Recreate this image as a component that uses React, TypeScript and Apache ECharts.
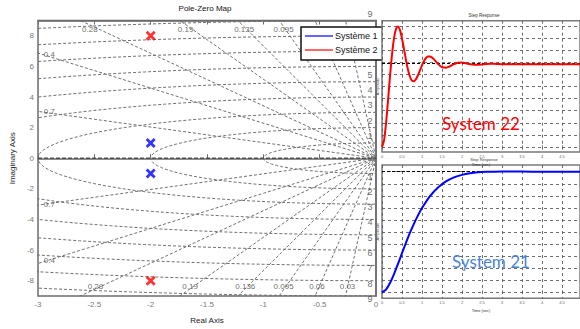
import React, { useEffect, useRef } from 'react';
import * as echarts from 'echarts';

// Pole locations
const sys1PoleRe = [-2, -2];
const sys1PoleIm = [1, -1];
const sys2PoleRe = [-2, -2];
const sys2PoleIm = [8, -8];

// s-plane grid definition
const dampingValues = [0.03, 0.06, 0.095, 0.135, 0.19, 0.28, 0.4, 0.7];
const natFreqValues = [1, 2, 3, 4, 5, 6, 7, 8, 9];

// Visible grid labels (damping)
const dampTopText = ['0.28', '0.19', '0.135', '0.095'];
const dampTopRe = [-2.54, -1.69, -1.17, -0.82];
const dampBotText = ['0.28', '0.19', '0.136', '0.095', '0.06', '0.03'];
const dampBotRe = [-2.49, -1.65, -1.16, -0.82, -0.524, -0.253];
const dampSideText = ['0.4', '0.7', '0.7', '0.4'];
const dampSideIm = [6.8, 3.06, -3.0, -6.68];

// Visible natural-frequency labels
const wnUpperValues = [1, 2, 3, 4, 5, 9];
const wnLowerValues = [1, 2, 3, 4, 5, 6, 7, 8, 9];

// Step responses (normalized amplitude)
const stepTime2 = [0, 0.05, 0.1, 0.15, 0.2, 0.25, 0.3, 0.35, 0.4, 0.45, 0.5, 0.55, 0.6, 0.65, 0.7, 0.75, 0.8, 0.85, 0.9, 0.95, 1.0, 1.05, 1.1, 1.15, 1.2, 1.25, 1.3, 1.35, 1.4, 1.45, 1.5, 1.6, 1.7, 1.8, 1.9, 2.0, 2.1, 2.2, 2.3, 2.4, 2.5, 2.6, 2.7, 2.8, 2.9, 3.0, 3.5, 4.0, 4.5, 5.0];
const stepAmp2 = [0, 0.078, 0.283, 0.559, 0.852, 1.115, 1.312, 1.426, 1.455, 1.41, 1.31, 1.182, 1.049, 0.933, 0.848, 0.801, 0.794, 0.819, 0.867, 0.926, 0.986, 1.037, 1.074, 1.092, 1.093, 1.08, 1.058, 1.031, 1.003, 0.981, 0.965, 0.958, 0.975, 1.0, 1.017, 1.019, 1.01, 0.999, 0.992, 0.992, 0.996, 1.001, 1.004, 1.004, 1.002, 1.0, 1.0, 1.0, 1.0, 1.0];
const sys2Gain = 0.685;

const stepTime1 = [0, 0.1, 0.2, 0.3, 0.4, 0.5, 0.6, 0.7, 0.8, 0.9, 1.0, 1.2, 1.4, 1.6, 1.8, 2.0, 2.2, 2.4, 2.6, 2.8, 3.0, 3.5, 4.0, 4.5, 5.0];
const stepAmp1 = [0, 0.022, 0.077, 0.151, 0.236, 0.324, 0.411, 0.494, 0.57, 0.638, 0.699, 0.798, 0.87, 0.92, 0.953, 0.974, 0.987, 0.995, 0.999, 1.001, 1.002, 1.0015, 1.0005, 1.0, 1.0];
const sys1Gain = 1;

const stepGridLevels = [0, 0.1, 0.2, 0.3, 0.4, 0.5, 0.6, 0.7, 0.8, 0.9, 1.0];

const FONT = 'Liberation Sans, Arial, sans-serif';
const GRID_GREY = '#707070';
const XSYM = 'path://M0,2 L2,0 L5,3 L8,0 L10,2 L7,5 L10,8 L8,10 L5,7 L2,10 L0,8 L3,5 Z';

export default function App() {
  const ref = useRef<HTMLDivElement>(null);

  useEffect(() => {
    if (!ref.current) return;
    const chart = echarts.init(ref.current, undefined, { renderer: 'svg' });

    const gridLine = { color: GRID_GREY, width: 1, type: [3, 2] as number[] };

    const circleSeries = natFreqValues.map((r) => ({
      type: 'line', xAxisIndex: 0, yAxisIndex: 0, silent: true, symbol: 'none', z: 1,
      lineStyle: gridLine,
      data: Array.from({ length: 91 }, (_, i) => {
        const th = Math.PI / 2 + (i * Math.PI) / 90;
        return [r * Math.cos(th), r * Math.sin(th)];
      }),
    }));

    const radialSeries = dampingValues.map((z) => {
      const m = Math.sqrt(1 - z * z) / z;
      return {
        type: 'line', xAxisIndex: 0, yAxisIndex: 0, silent: true, symbol: 'none', z: 1,
        lineStyle: gridLine,
        data: [[-20, 20 * m], [0, 0], [-20, -20 * m]],
      };
    });

    const labelSeries = (data: any[], offset: number[], fontSize: number) => ({
      type: 'scatter', xAxisIndex: 0, yAxisIndex: 0, silent: true, clip: false, z: 3,
      symbol: 'circle', symbolSize: 1,
      itemStyle: { color: 'rgba(0,0,0,0)' },
      label: {
        show: true, position: 'inside', offset, formatter: (p: any) => p.data[2],
        color: '#444', fontSize, fontFamily: FONT,
      },
      data,
    });

    const dampLabels = [
      ...dampTopRe.map((x, i) => [x, 8.42, dampTopText[i]]),
      ...dampBotRe.map((x, i) => [x, -8.4, dampBotText[i]]),
      ...dampSideIm.map((y, i) => [-2.9, y, dampSideText[i]]),
    ];
    const wnUpper = wnUpperValues.map((r) => [0, r, String(r)]);
    const wnLower = wnLowerValues.map((r) => [0, -r, String(r)]);

    const stepXAxis = (gridIndex: number) => ({
      type: 'value', gridIndex, min: 0, max: 4.95, interval: 0.5, z: 7,
      axisLine: { show: false },
      axisTick: { show: true, inside: true, length: 2, lineStyle: { color: '#555', width: 0.6 } },
      axisLabel: { fontSize: 4, color: '#666', margin: 2, showMaxLabel: false, fontFamily: FONT },
      splitLine: { show: true, lineStyle: { color: '#5e5e5e', width: 0.9, type: [3, 3] } },
      name: 'Time (sec)', nameLocation: 'middle', nameGap: 10,
      nameTextStyle: { fontSize: 4, color: '#333', fontFamily: FONT },
    });
    const stepYAxis = (gridIndex: number, min: number, max: number) => ({
      type: 'value', gridIndex, min, max, z: 7,
      axisLine: { show: false }, axisTick: { show: false }, axisLabel: { show: false },
      splitLine: { show: false },
      name: 'Amplitude', nameLocation: 'middle', nameGap: 3, nameRotate: 90,
      nameTextStyle: { fontSize: 4, color: '#555', fontFamily: FONT },
    });
    const stepMarks = (ss: number) => ({
      silent: true, symbol: 'none', z: 7, animation: false,
      label: { show: false },
      data: [
        ...stepGridLevels.map((v) => ({ yAxis: v, lineStyle: { color: '#5e5e5e', type: [3, 3], width: 0.9 } })),
        { yAxis: ss, lineStyle: { color: '#000', type: [3, 2], width: 1.1 } },
      ],
    });

    const option: any = {
      animation: false,
      backgroundColor: '#fff',
      textStyle: { fontFamily: FONT },
      grid: [
        { left: 33, top: 20.5, width: 343, height: 278.5, show: true, borderColor: '#6b6b6b', borderWidth: 1.5, backgroundColor: '#fff', z: 0 },
        { left: 382, top: 20.7, width: 200, height: 131.3, show: true, borderColor: '#7a7a7a', borderWidth: 1.5, backgroundColor: '#fff', z: 6 },
        { left: 382, top: 165, width: 200, height: 133.3, show: true, borderColor: '#7a7a7a', borderWidth: 1.5, backgroundColor: '#fff', z: 6 },
      ],
      xAxis: [
        {
          type: 'value', gridIndex: 0, min: -3, max: 0, interval: 0.5,
          axisLine: { show: true, lineStyle: { color: '#6b6b6b', width: 1.5 } },
          axisTick: { show: true, inside: true, length: 4, lineStyle: { color: '#6b6b6b' } },
          axisLabel: { fontSize: 8, color: '#7a7a7a', margin: 4, fontFamily: FONT },
          splitLine: { show: false },
          name: 'Real Axis', nameLocation: 'middle', nameGap: 20,
          nameTextStyle: { fontSize: 8, color: '#222', fontFamily: FONT },
        },
        stepXAxis(1),
        stepXAxis(2),
        {
          type: 'value', gridIndex: 0, min: -3, max: 0, interval: 0.5, position: 'top',
          axisLine: { show: true, lineStyle: { color: '#6b6b6b', width: 1.5 } },
          axisTick: { show: true, inside: true, length: 4, lineStyle: { color: '#6b6b6b' } },
          axisLabel: { show: false }, splitLine: { show: false },
        },
      ],
      yAxis: [
        {
          type: 'value', gridIndex: 0, min: -9, max: 9, interval: 1,
          axisLine: { show: true, lineStyle: { color: '#6b6b6b', width: 1.5 } },
          axisTick: { show: false },
          axisLabel: {
            fontSize: 8, color: '#7a7a7a', margin: 4, fontFamily: FONT,
            formatter: (v: number) => (Math.round(v) % 2 === 0 ? String(v) : ''),
          },
          splitLine: { show: false },
          name: 'Imaginary Axis', nameLocation: 'middle', nameGap: 18, nameRotate: 90,
          nameTextStyle: { fontSize: 8, color: '#222', fontFamily: FONT },
        },
        stepYAxis(1, -0.041, 1.044),
        stepYAxis(2, -0.05, 1.056),
      ],
      series: [
        ...circleSeries,
        ...radialSeries,
        {
          type: 'line', xAxisIndex: 0, yAxisIndex: 0, silent: true, symbol: 'none', z: 1,
          lineStyle: { color: '#505050', width: 1.3, type: [4, 2] },
          data: [[-3, 0], [0, 0]],
        },
        labelSeries(dampLabels, [0, 0], 8),
        labelSeries(wnUpper, [-6, -7], 9),
        labelSeries(wnLower, [-6, 3], 9),
        {
          name: 'Système 1', type: 'scatter', xAxisIndex: 0, yAxisIndex: 0, z: 4,
          symbol: XSYM, symbolSize: 10, itemStyle: { color: '#0000ff' },
          data: sys1PoleRe.map((x, i) => [x, sys1PoleIm[i]]),
        },
        {
          name: 'Système 2', type: 'scatter', xAxisIndex: 0, yAxisIndex: 0, z: 4,
          symbol: XSYM, symbolSize: 10, itemStyle: { color: '#ff0000' },
          data: sys2PoleRe.map((x, i) => [x, sys2PoleIm[i]]),
        },
        {
          name: 'Step Système 2', type: 'line', xAxisIndex: 1, yAxisIndex: 1, z: 8,
          symbol: 'none', smooth: 0.3, lineStyle: { color: '#ff0000', width: 2 },
          data: stepTime2.map((t, i) => [t, stepAmp2[i] * sys2Gain]),
          markLine: stepMarks(sys2Gain),
        },
        {
          name: 'Step Système 1', type: 'line', xAxisIndex: 2, yAxisIndex: 2, z: 8,
          symbol: 'none', smooth: 0.3, lineStyle: { color: '#0000ff', width: 2 },
          data: stepTime1.map((t, i) => [t, stepAmp1[i] * sys1Gain]),
          markLine: stepMarks(sys1Gain),
        },
      ],
      graphic: [
        { type: 'text', z: 10, x: 205, y: 8, style: { text: 'Pole-Zero Map', fontSize: 8, fill: '#111', align: 'center', verticalAlign: 'middle', fontFamily: FONT } },
        { type: 'rect', z: 5, shape: { x: 301, y: 27, width: 100, height: 33 }, style: { fill: '#fff', stroke: '#111', lineWidth: 1.5 } },
        { type: 'line', z: 5, shape: { x1: 305, y1: 36, x2: 333, y2: 36 }, style: { stroke: '#0000ff', lineWidth: 1.2 } },
        { type: 'line', z: 5, shape: { x1: 305, y1: 50, x2: 333, y2: 50 }, style: { stroke: '#ff0000', lineWidth: 1.2 } },
        { type: 'text', z: 5, x: 335, y: 36, style: { text: 'Système 1', fontSize: 9, fill: '#111', align: 'left', verticalAlign: 'middle', fontFamily: FONT } },
        { type: 'text', z: 5, x: 335, y: 50, style: { text: 'Système 2', fontSize: 9, fill: '#111', align: 'left', verticalAlign: 'middle', fontFamily: FONT } },
        { type: 'text', z: 10, x: 484, y: 15, style: { text: 'Step Response', fontSize: 4.5, fill: '#333', align: 'center', verticalAlign: 'middle', fontFamily: FONT } },
        { type: 'text', z: 10, x: 484, y: 159.6, style: { text: 'Step Response', fontSize: 4, fill: '#333', align: 'center', verticalAlign: 'middle', fontFamily: FONT } },
        { type: 'text', z: 10, x: 481, y: 123, style: { text: 'System 22', fontSize: 17, fill: '#ff0000', align: 'center', verticalAlign: 'middle', fontFamily: 'Lato, sans-serif' } },
        { type: 'text', z: 10, x: 491, y: 261, style: { text: 'System 21', fontSize: 17, fill: '#4a84d8', align: 'center', verticalAlign: 'middle', fontFamily: 'Lato, sans-serif' } },
      ],
    };

    chart.setOption(option);
    return () => chart.dispose();
  }, []);

  return (
    <div
      ref={ref}
      style={{ position: 'absolute', left: 0, top: 0, width: 580, height: 329, background: '#fff' }}
    />
  );
}
